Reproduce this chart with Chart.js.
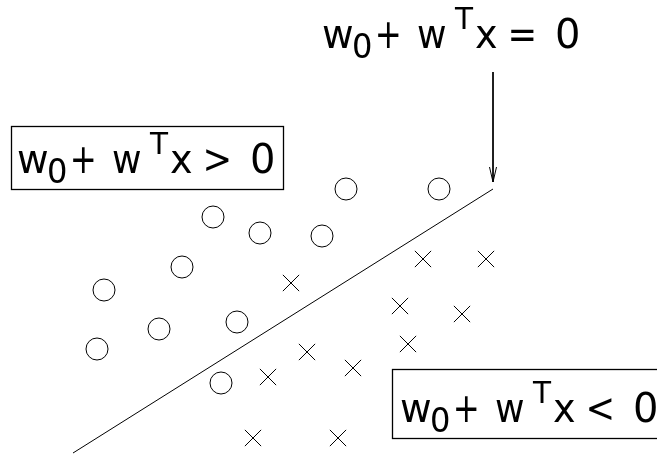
<!DOCTYPE html>
<html><head><meta charset="utf-8">
<script src="https://cdn.jsdelivr.net/npm/chart.js@4/dist/chart.umd.min.js"></script>
<style>html,body{margin:0;padding:0;background:#fff;overflow:hidden}#wrap{width:657px;height:454px}</style>
</head><body><div id="wrap"><canvas id="c"></canvas></div>
<script>
// Data in diagram coordinates (x to the right, y downward)
const circleX = [346, 439, 213, 260, 322, 182, 104, 159, 237, 97, 221];
const circleY = [189, 189, 217, 233, 236, 267, 290, 329, 322, 349, 383];
const crossX  = [423, 486, 291, 400, 462, 408, 307, 353, 268, 253, 338];
const crossY  = [259, 259, 283, 306, 314, 344, 352, 368, 377, 438, 438];
const boundaryX = [73, 493];
const boundaryY = [453, 189];
const arrowX = [493, 493];
const arrowY = [72, 182];
const labelRel = ["=", ">", "<"];
const labelX = [323, 18, 401];
const labelY = [48, 173, 422];
const labelBox = [false, true, true];

const pts = (xs, ys) => xs.map((x, i) => ({x, y: ys[i]}));

// box geometry relative to label start / baseline: [dLeft, dTop, width, dBottom]
const boxStyle = [null, [-7, -47, 272, 16], [-9, -53, 272, 16]];

const annot = {
  id: 'annot',
  afterDatasetsDraw(chart) {
    const ctx = chart.ctx, sx = chart.scales.x, sy = chart.scales.y;
    // arrow head
    const ax = sx.getPixelForValue(arrowX[1]), ay = sy.getPixelForValue(arrowY[1]);
    ctx.save();
    ctx.strokeStyle = '#000'; ctx.lineWidth = 1;
    ctx.beginPath();
    ctx.moveTo(ax - 3.5, ay - 15); ctx.lineTo(ax, ay); ctx.lineTo(ax + 3.5, ay - 15);
    ctx.stroke();
    // equations: each glyph placed by its ink box
    const F = '"DejaVu Sans", sans-serif';
    const glyph = (t, size, left, width, base) => {
      ctx.font = size + 'px ' + F;
      const m = ctx.measureText(t);
      const inkL = -m.actualBoundingBoxLeft, inkW = m.actualBoundingBoxRight + m.actualBoundingBoxLeft;
      const k = width / inkW;
      ctx.save();
      ctx.translate(left, base);
      ctx.scale(k, 1);
      ctx.fillText(t, -inkL, 0);
      ctx.restore();
    };
    labelRel.forEach((rel, i) => {
      const x0 = sx.getPixelForValue(labelX[i]); const y = sy.getPixelForValue(labelY[i]);
      ctx.fillStyle = '#000'; ctx.textBaseline = 'alphabetic'; ctx.textAlign = 'left';
      // [text, font size, ink dx, ink width, dy]
      const parts = [
        ['w', 40, 0, 30, 0], ['0', 34, 31, 17, 9.5], ['+', 40, 55, 21, 0], ['w', 40, 95, 28, 0],
        ['T', 31, 131, 20, -19], ['x', 40, 153, 21, 0], [rel, 40, 188, 23, 0], ['0', 40, 234, 21, 0]
      ];
      parts.forEach(p => glyph(p[0], p[1], x0 + p[2], p[3], y + p[4]));
      if (labelBox[i]) {
        const b = boxStyle[i];
        ctx.lineWidth = 1.3;
        const top = Math.round(y + b[1]) + 0.5;
        ctx.strokeRect(Math.round(x0 + b[0]) + 0.5, top, b[2], Math.round(y + b[3]) + 0.5 - top);
      }
    });
    ctx.restore();
  }
};

new Chart(document.getElementById('c'), {
  type: 'scatter',
  data: {
    datasets: [
      {data: pts(circleX, circleY), pointStyle: 'circle', pointRadius: 11, borderColor: '#000', backgroundColor: 'rgba(0,0,0,0)', borderWidth: 1, clip: false},
      {data: pts(crossX, crossY), pointStyle: 'crossRot', pointRadius: 11.5, borderColor: '#000', borderWidth: 1, clip: false},
      {data: pts(boundaryX, boundaryY), showLine: true, pointRadius: 0, borderColor: '#000', borderWidth: 1, clip: false},
      {data: pts(arrowX, arrowY), showLine: true, pointRadius: 0, borderColor: '#000', borderWidth: 1, clip: false}
    ]
  },
  options: {
    responsive: true, maintainAspectRatio: false, animation: false,
    layout: {padding: 0, autoPadding: false},
    plugins: {legend: {display: false}, tooltip: {enabled: false}},
    events: [],
    scales: {
      x: {type: 'linear', min: 0, max: 657, display: false},
      y: {type: 'linear', min: 0, max: 454, reverse: true, display: false}
    }
  },
  plugins: [annot]
});
</script></body></html>
